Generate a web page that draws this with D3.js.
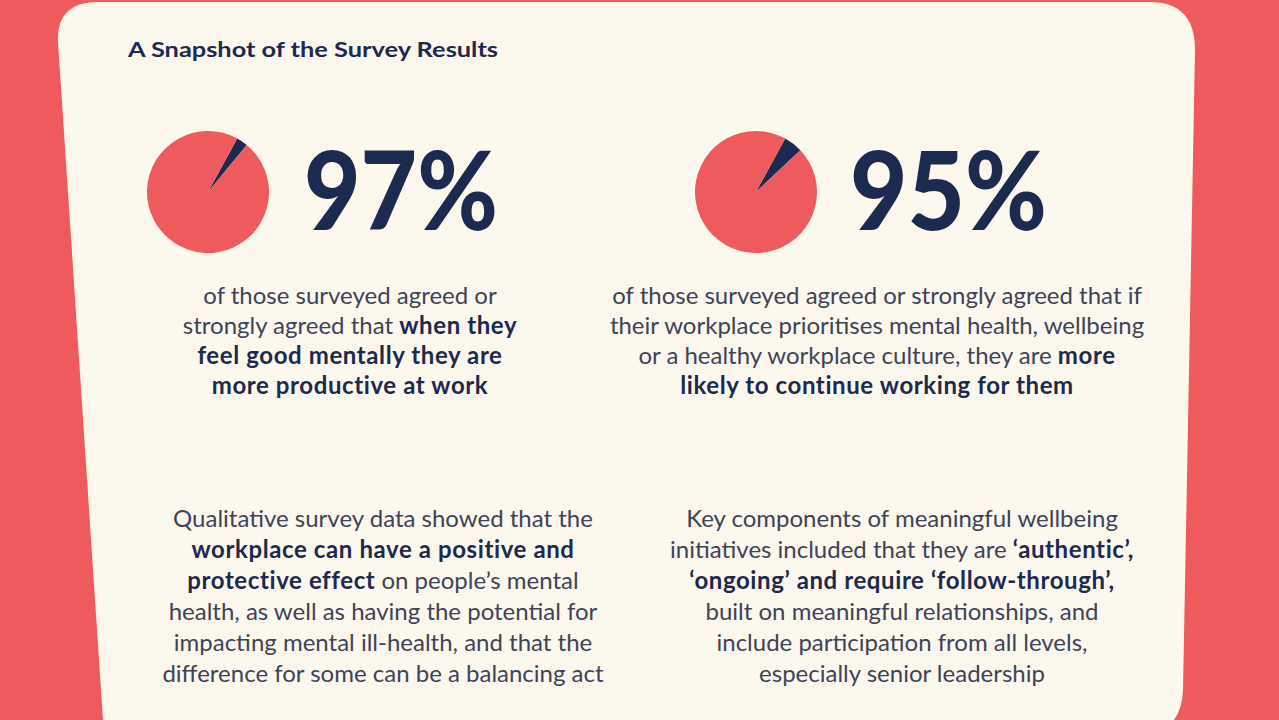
<!DOCTYPE html>
<html lang="en">
<head>
<meta charset="UTF-8">
<title>A Snapshot of the Survey Results</title>
<script src="https://d3js.org/d3.v7.min.js"></script>
<style>
  body { margin: 0; background: #ef5b5d; }
  svg { display: block; }
  text { font-family: Lato, "Open Sans", sans-serif; }
</style>
</head>
<body>
<svg width="1279" height="720"></svg>
<script>
// data
var title = "A Snapshot of the Survey Results";
var percents = [97, 95];
var statLines = [
  ["of those surveyed agreed or",
   "strongly agreed that **when they**",
   "**feel good mentally they are**",
   "**more productive at work**"],
  ["of those surveyed agreed or strongly agreed that if",
   "their workplace prioritises mental health, wellbeing",
   "or a healthy workplace culture, they are **more**",
   "**likely to continue working for them**"]
];
var noteLines = [
  ["Qualitative survey data showed that the",
   "**workplace can have a positive and**",
   "**protective effect** on people\u2019s mental",
   "health, as well as having the potential for",
   "impacting mental ill-health, and that the",
   "difference for some can be a balancing act"],
  ["Key components of meaningful wellbeing",
   "initiatives included that they are **\u2018authentic\u2019,**",
   "**\u2018ongoing\u2019 and require \u2018follow-through\u2019,**",
   "built on meaningful relationships, and",
   "include participation from all levels,",
   "especially senior leadership"]
];

var coral = "#ef5b5d", cream = "#fdf8ee", navy = "#1c2a4f", grey = "#3e4358";
var svg = d3.select("svg");

// cream card with a slanted left edge
svg.append("path")
  .attr("d", "M104,735 L58,42 Q56,2 98,2 L1150,2 Q1195,2 1195,50 L1183,690 Q1181,735 1138,735 Z")
  .attr("fill", cream);

svg.append("text")
  .attr("x", 128).attr("y", 57)
  .attr("font-size", 21).attr("font-weight", 700)
  .attr("fill", navy)
  .attr("textLength", 370).attr("lengthAdjust", "spacingAndGlyphs")
  .text(title);

// column positions
var pieX = [208, 756], pieY = 192, radius = 61;
var pctX = [304, 850], pctW = [194, 197];
var statX = [350, 877], noteX = [383, 902];

var pie = d3.pie().sort(null).value(d => d.v)
  .startAngle(0.5).endAngle(0.5 + 2 * Math.PI);
var arc = d3.arc().innerRadius(0).outerRadius(radius);

percents.forEach(function(p, i) {
  var g = svg.append("g").attr("transform", `translate(${pieX[i]},${pieY})`);
  g.selectAll("path")
    .data(pie([{k: "other", v: 100 - p}, {k: "agree", v: p}]))
    .join("path")
    .attr("d", arc)
    .attr("fill", d => d.data.k == "agree" ? coral : navy);

  svg.append("text")
    .attr("x", pctX[i]).attr("y", 230)
    .attr("font-size", 108).attr("font-weight", 900)
    .attr("fill", navy)
    .attr("textLength", pctW[i]).attr("lengthAdjust", "spacingAndGlyphs")
    .text(p + "%");
});

// write a line with **bold** parts as tspans
function addLine(x, y, line) {
  var t = svg.append("text")
    .attr("x", x).attr("y", y)
    .attr("text-anchor", "middle")
    .attr("font-size", 24)
    .attr("fill", grey);
  line.split("**").forEach(function(part, j) {
    if (!part) return;
    t.append("tspan")
      .attr("font-weight", j % 2 ? 700 : 400)
      .attr("letter-spacing", j % 2 ? 0.6 : 0)
      .attr("fill", j % 2 ? navy : grey)
      .text(part);
  });
}

statLines.forEach(function(lines, i) {
  lines.forEach((l, k) => addLine(statX[i], 304 + k * 30, l));
});
noteLines.forEach(function(lines, i) {
  lines.forEach((l, k) => addLine(noteX[i], 527 + k * 31, l));
});
</script>
</body>
</html>
